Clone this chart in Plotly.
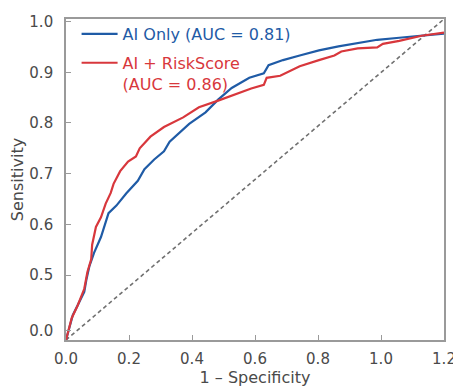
import plotly.graph_objects as go

# ---- data (y in the chart's displayed scale) ----
ai_only_fpr = [0.0, 0.0215, 0.043, 0.058, 0.065, 0.074, 0.089, 0.111, 0.135, 0.160, 0.191,
               0.228, 0.249, 0.280, 0.311, 0.329, 0.391, 0.443, 0.483, 0.526, 0.582, 0.628,
               0.643, 0.689, 0.742, 0.803, 0.865, 0.926, 0.988, 1.058, 1.129, 1.2]
ai_only_tpr = [0.372, 0.421, 0.448, 0.467, 0.492, 0.517, 0.544, 0.575, 0.622, 0.637, 0.661,
               0.686, 0.709, 0.728, 0.744, 0.763, 0.798, 0.821, 0.846, 0.869, 0.889, 0.898,
               0.914, 0.924, 0.933, 0.943, 0.951, 0.958, 0.964, 0.968, 0.972, 0.976]

ai_risk_fpr = [0.0, 0.018, 0.037, 0.058, 0.068, 0.080, 0.083, 0.095, 0.111, 0.126, 0.142,
               0.151, 0.172, 0.197, 0.222, 0.234, 0.268, 0.311, 0.372, 0.422, 0.483, 0.535,
               0.588, 0.628, 0.637, 0.680, 0.742, 0.803, 0.852, 0.874, 0.926, 0.988, 1.006,
               1.058, 1.129, 1.2]
ai_risk_tpr = [0.372, 0.415, 0.440, 0.473, 0.506, 0.531, 0.560, 0.595, 0.614, 0.641, 0.662,
               0.680, 0.705, 0.724, 0.734, 0.750, 0.773, 0.792, 0.811, 0.831, 0.844, 0.856,
               0.868, 0.875, 0.889, 0.893, 0.912, 0.924, 0.933, 0.941, 0.947, 0.949, 0.956,
               0.962, 0.972, 0.978]

chance_x = [0.0, 1.2]
chance_y = [0.372, 1.005]

x_tickvals = [0.0, 0.2, 0.4, 0.6, 0.8, 1.0, 1.2]
x_ticktext = ["0.0", "0.2", "0.4", "0.6", "0.8", "1.0", "1.2"]
y_tickvals = [0.39, 0.5, 0.6, 0.7, 0.8, 0.9, 1.0]
y_ticktext = ["0.0", "0.5", "0.6", "0.7", "0.8", "0.9", "1.0"]

BLUE = "#1f5ba6"
RED = "#d8373c"
FONT = "DejaVu Sans"
AXIS = "#9a9a9a"

fig = go.Figure()
fig.add_trace(go.Scatter(x=chance_x, y=chance_y, mode="lines", showlegend=False,
                         line=dict(color="#707070", width=1.6, dash="4px,3px")))
fig.add_trace(go.Scatter(x=ai_only_fpr, y=ai_only_tpr, mode="lines", legendgroup="a",
                         name=f"<span style='color:{BLUE}'>AI Only (AUC = 0.81)</span>",
                         line=dict(color=BLUE, width=2.2)))
fig.add_trace(go.Scatter(x=ai_risk_fpr, y=ai_risk_tpr, mode="lines", legendgroup="b",
                         name=f"<span style='color:{RED}'>AI + RiskScore<br>(AUC = 0.86)</span>",
                         line=dict(color=RED, width=2.2)))

fig.update_layout(
    width=453, height=379,
    margin=dict(l=58, r=5, t=7, b=45),
    paper_bgcolor="white", plot_bgcolor="white",
    font=dict(family=FONT, size=15, color="#4a4a4a"),
    legend=dict(x=0.028, y=1.006, xanchor="left", yanchor="top", valign="top",
                bgcolor="rgba(0,0,0,0)", font=dict(size=16), itemwidth=36,
                tracegroupgap=5),
    xaxis=dict(range=[0, 1.2], tickvals=x_tickvals, ticktext=x_ticktext,
               showgrid=False, zeroline=False, showline=True, mirror=True,
               linecolor=AXIS, linewidth=1.6, ticks="inside", ticklen=5,
               tickcolor=AXIS, tickfont=dict(size=15), ticklabelstandoff=4,
               ticklabeloverflow="allow",
               title=dict(text="1 – Specificity", font=dict(size=16), standoff=3)),
    yaxis=dict(range=[0.372, 1.005], tickvals=y_tickvals, ticktext=y_ticktext,
               showgrid=False, zeroline=False, showline=True, mirror=True,
               linecolor=AXIS, linewidth=1.6, ticks="inside", ticklen=5,
               tickcolor=AXIS, tickfont=dict(size=15), ticklabelstandoff=8,
               ticklabeloverflow="allow",
               title=dict(text="Sensitivity", font=dict(size=16), standoff=4)),
)

fig.write_html("out.html")
